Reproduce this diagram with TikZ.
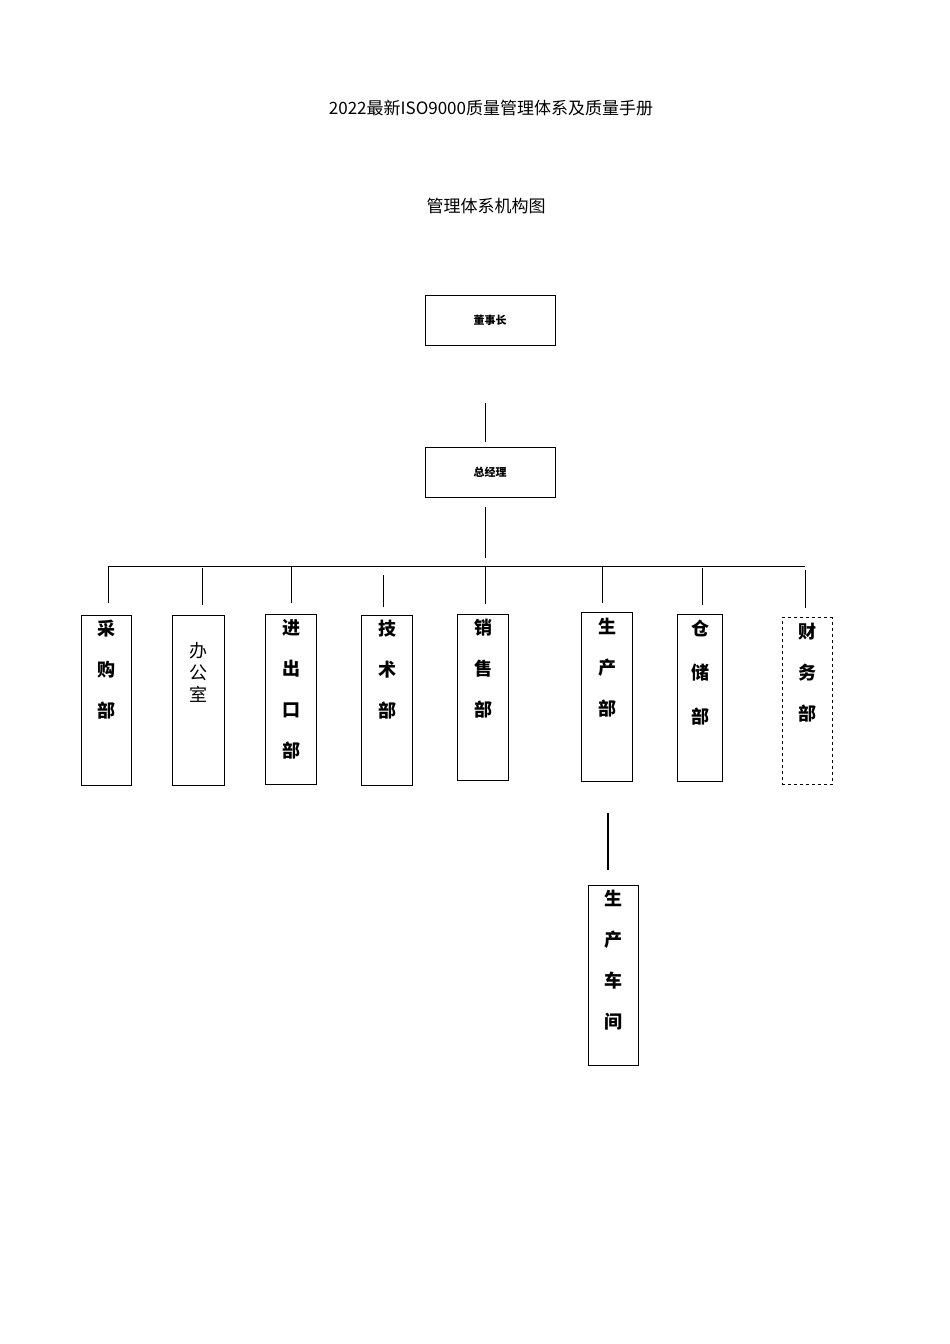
\documentclass[tikz,border=0pt]{standalone}
\usepackage{fontspec}
\newfontfamily\cjk{Noto Sans CJK SC}
\usetikzlibrary{positioning}
\tikzset{
  dept/.style={draw,minimum width=50pt,minimum height=170pt,inner sep=0pt},
  dtext/.style={font=\cjk\bfseries\fontsize{18pt}{41pt}\selectfont,align=center,anchor=north},
  top/.style={draw,minimum width=130pt,minimum height=50pt,font=\cjk\bfseries\fontsize{11pt}{13pt}\selectfont}
}
\begin{document}
\begin{tikzpicture}[x=1pt,y=-1pt]
  \useasboundingbox (0,0) rectangle (950,1344);
  \node (title) at (491,108) {\cjk\fontsize{17pt}{20pt}\selectfont 2022最新ISO9000质量管理体系及质量手册};
  \node (sub) at (486,206) {\cjk\fontsize{17pt}{20pt}\selectfont 管理体系机构图};
  \node[top] (dsz) at (490,320) {董事长};
  \node[top] (zjl) at (490,472) {总经理};
  \coordinate (l1a) at (485,403); \coordinate (l1b) at (485,442);
  \draw (l1a) -- (l1b);
  \coordinate (l2a) at (485,507); \coordinate (l2b) at (485,558);
  \draw (l2a) -- (l2b);
  \coordinate (hl) at (108,566); \coordinate (hr) at (805,566);
  \draw (hl) -- (hr);
  % departments
  \node[dept] (cg) at (106,700) {};
  \node[dept,minimum width=52pt] (bgs) at (198,700) {};
  \node[dept,minimum width=51pt] (jck) at (291,699) {};
  \node[dept,minimum width=51pt] (js) at (387,700) {};
  \node[dept,minimum width=51pt,minimum height=166pt] (xs) at (483,697) {};
  \node[dept,minimum width=51pt,minimum height=169pt] (sc) at (607,697) {};
  \node[dept,minimum width=45pt,minimum height=167pt] (cc) at (700,698) {};
  \node[dept,dashed,minimum height=167pt] (cw) at (807,701) {};
  \node[dtext] (cg-t) at ([yshift=-2pt]cg.north) {采\\购\\部};
  \node[font=\cjk\fontsize{18pt}{22pt}\selectfont,align=center,anchor=north] (bgs-t) at ([yshift=-24pt]bgs.north) {办\\公\\室};
  \node[dtext] (jck-t) at ([yshift=-2pt]jck.north) {进\\出\\口\\部};
  \node[dtext] (js-t) at ([yshift=-2pt]js.north) {技\\术\\部};
  \node[dtext] (xs-t) at ([yshift=-2pt]xs.north) {销\\售\\部};
  \node[dtext] (sc-t) at ([yshift=-2pt]sc.north) {生\\产\\部};
  \node[dtext,font=\cjk\bfseries\fontsize{18pt}{44pt}\selectfont] (cc-t) at ([yshift=-2pt]cc.north) {仓\\储\\部};
  \node[dtext] (cw-t) at ([yshift=-2pt]cw.north) {财\\务\\部};
  % stubs
  \foreach \x/\a/\b in {108/566/603,202/568/605,291/566/603,383/575/607,485/566/604,602/566/603,702/568/605,805/570/608}{
    \coordinate (s\x a) at (\x,\a); \coordinate (s\x b) at (\x,\b);
    \draw (s\x a) -- (s\x b);
  }
  % workshop
  \coordinate (w1) at (608,813); \coordinate (w2) at (608,870);
  \draw[line width=1.5pt] (w1) -- (w2);
  \node[dept,minimum height=180pt] (cj) at (613,975) {};
  \node[dtext] (cj-t) at ([yshift=-2pt]cj.north) {生\\产\\车\\间};
\end{tikzpicture}
\end{document}
